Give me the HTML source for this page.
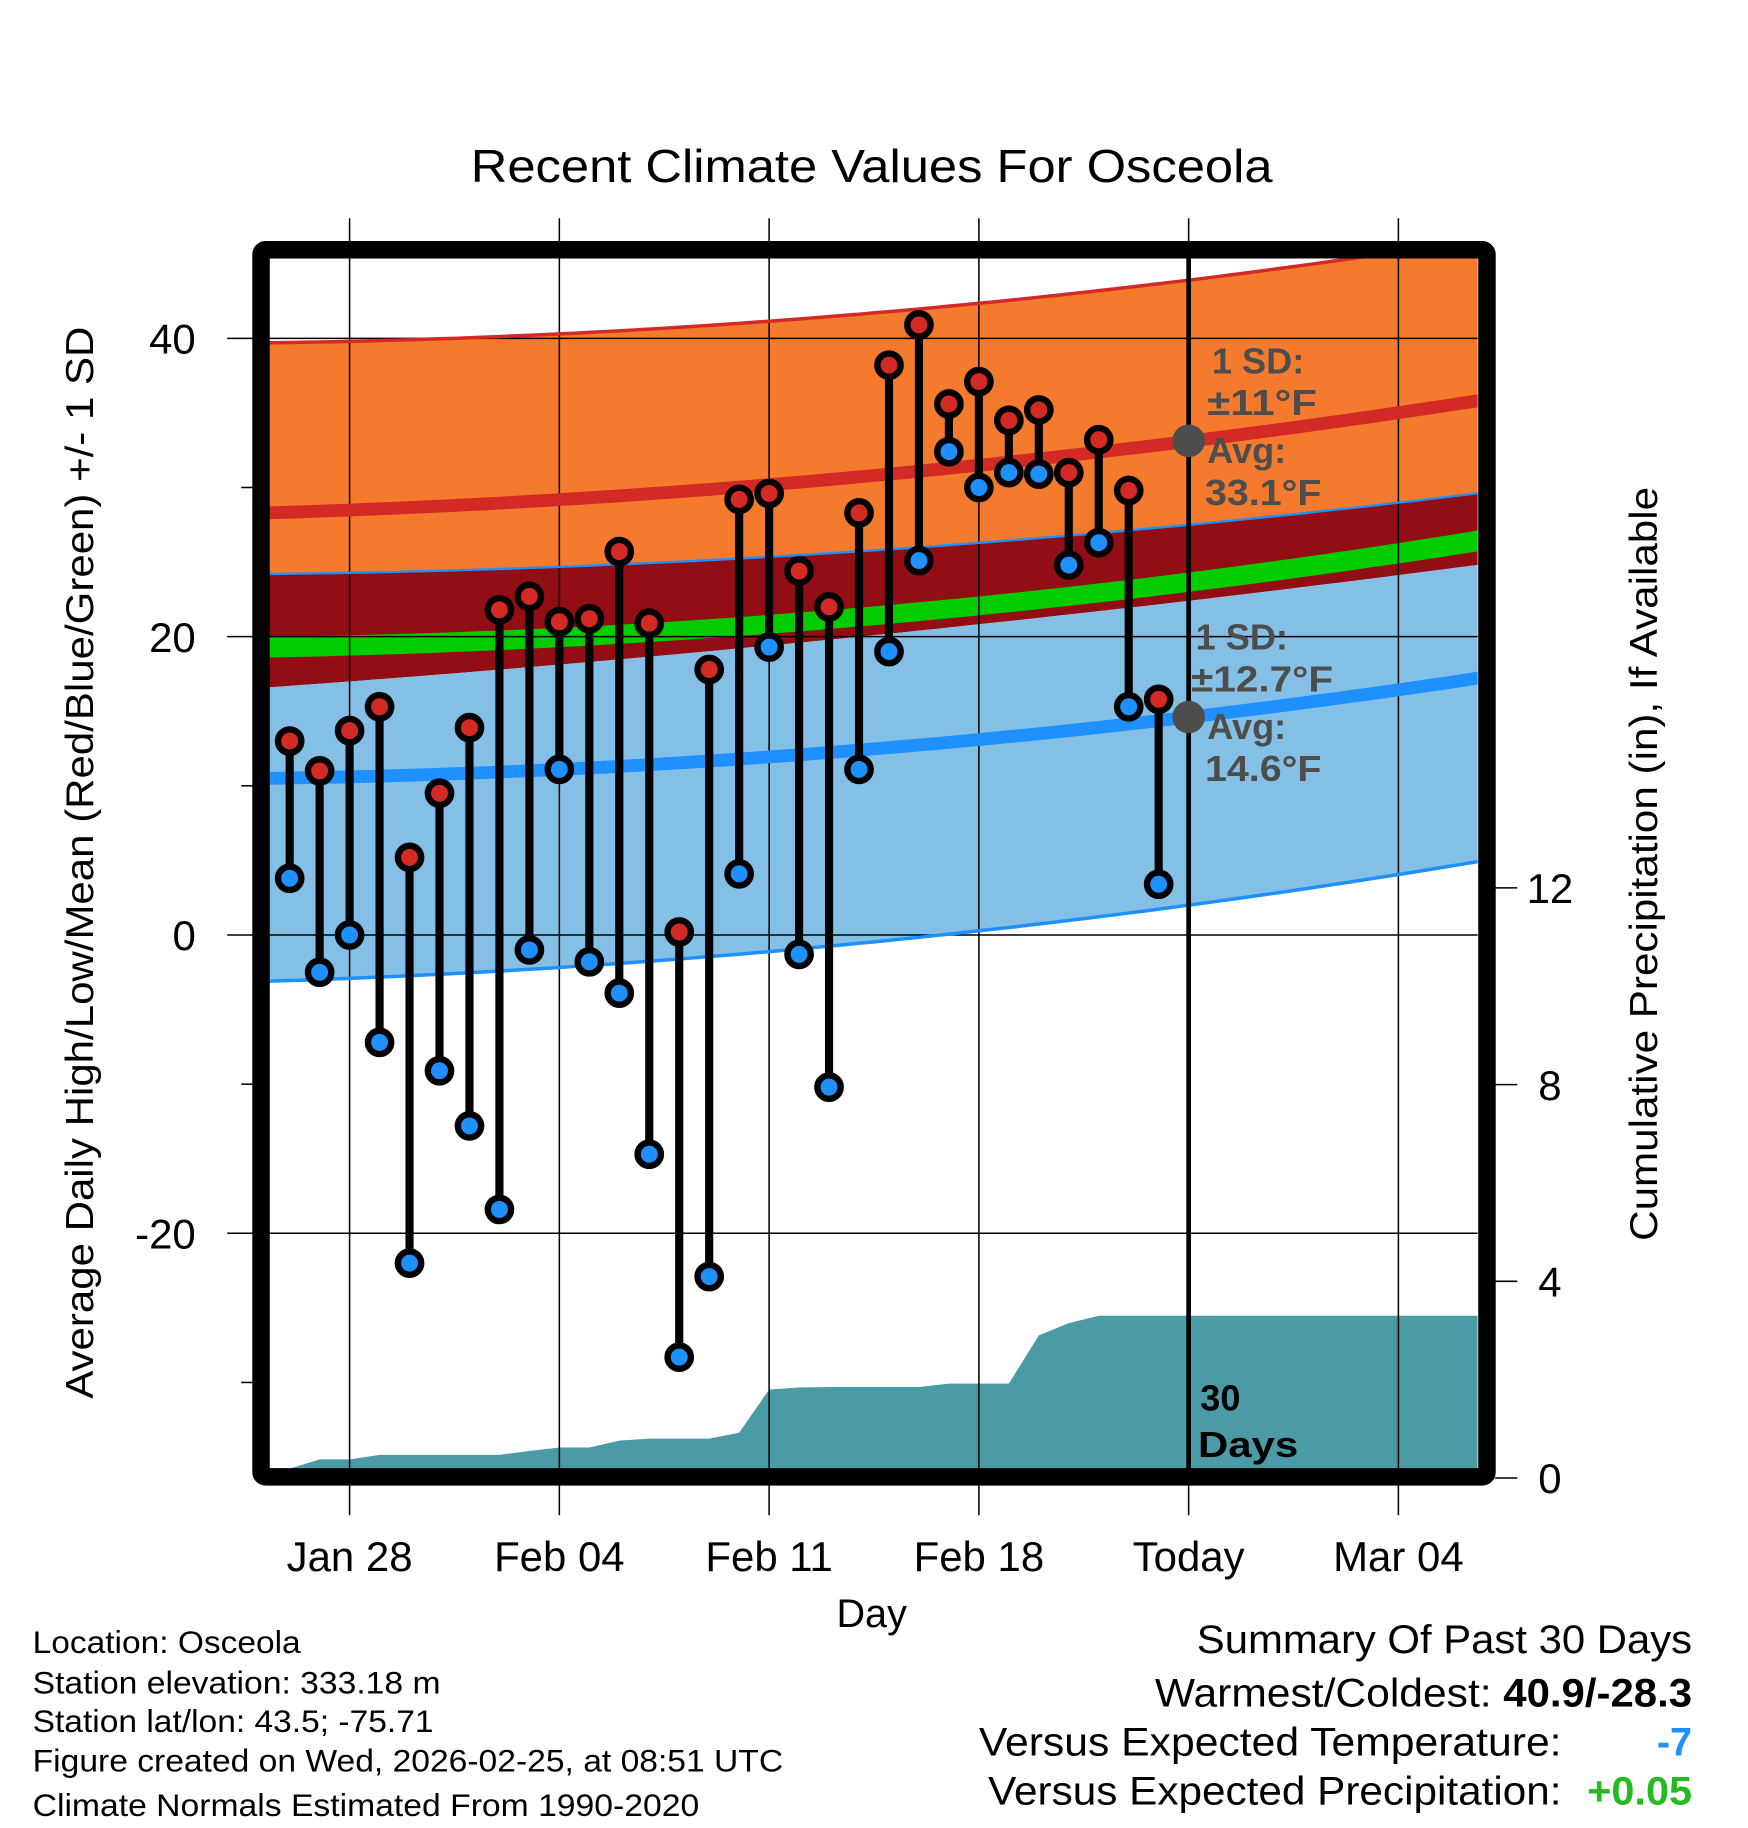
<!DOCTYPE html>
<html><head><meta charset="utf-8"><style>
html,body{margin:0;padding:0;background:#fff;}
svg{display:block;font-family:"Liberation Sans",Arial,sans-serif;}
</style></head><body>
<svg id="chart" width="1748" height="1828" viewBox="0 0 1500 1568" xmlns="http://www.w3.org/2000/svg">
<defs><clipPath id="pc"><rect x="231" y="221" width="1037" height="1039"/></clipPath></defs>
<g id="bands" clip-path="url(#pc)"></g>
<g id="precip" clip-path="url(#pc)"></g>
<g id="grid"></g>
<g id="lines" clip-path="url(#pc)"></g>
<g id="marks"></g>
<rect x="224" y="214" width="1052" height="1053" fill="none" stroke="#000" stroke-width="15" rx="4"/>
<g id="axes"></g>
<text x="748" y="156" font-size="40" text-anchor="middle" textLength="688" lengthAdjust="spacingAndGlyphs">Recent Climate Values For Osceola</text>
<text transform="translate(80,740) rotate(-90)" font-size="33" text-anchor="middle" textLength="920" lengthAdjust="spacingAndGlyphs">Average Daily High/Low/Mean (Red/Blue/Green) +/- 1 SD</text>
<text transform="translate(1422,741) rotate(-90)" font-size="33" text-anchor="middle" textLength="647" lengthAdjust="spacingAndGlyphs">Cumulative Precipitation (in), If Available</text>
<text x="748" y="1396" font-size="34" text-anchor="middle">Day</text>
<g font-size="27">
<text x="28" y="1418" textLength="230" lengthAdjust="spacingAndGlyphs">Location: Osceola</text>
<text x="28" y="1453" textLength="350" lengthAdjust="spacingAndGlyphs">Station elevation: 333.18 m</text>
<text x="28" y="1486" textLength="344" lengthAdjust="spacingAndGlyphs">Station lat/lon: 43.5; -75.71</text>
<text x="28" y="1520" textLength="644" lengthAdjust="spacingAndGlyphs">Figure created on Wed, 2026-02-25, at 08:51 UTC</text>
<text x="28" y="1558" textLength="572" lengthAdjust="spacingAndGlyphs">Climate Normals Estimated From 1990-2020</text>
</g>
<g font-size="34">
<text x="1027" y="1418" textLength="425" lengthAdjust="spacingAndGlyphs">Summary Of Past 30 Days</text>
<text x="991" y="1464" textLength="289" lengthAdjust="spacingAndGlyphs">Warmest/Coldest:</text>
<text x="1290" y="1464" font-weight="bold" textLength="162" lengthAdjust="spacingAndGlyphs">40.9/-28.3</text>
<text x="840" y="1506" textLength="500" lengthAdjust="spacingAndGlyphs">Versus Expected Temperature:</text>
<text x="1452" y="1506" fill="#1e90ff" font-weight="bold" text-anchor="end">-7</text>
<text x="848" y="1548" textLength="492" lengthAdjust="spacingAndGlyphs">Versus Expected Precipitation:</text>
<text x="1362" y="1548" fill="#22bb22" font-weight="bold" textLength="90" lengthAdjust="spacingAndGlyphs">+0.05</text>
</g>
<script>
// ---- data ----
const highs=[13,11,13.7,15.3,5.2,9.5,13.9,21.8,22.7,21,21.2,25.7,20.9,0.2,17.8,29.2,29.6,24.4,22,28.3,38.2,40.9,35.6,37.1,34.5,35.2,31,33.2,29.8,15.8];
const lows=[3.8,-2.5,0,-7.2,-22,-9.1,-12.8,-18.4,-1,11.1,-1.8,-3.9,-14.7,-28.3,-22.9,4.1,19.3,-1.3,-10.2,11.1,19,25.1,32.4,30,31,30.9,24.8,26.3,15.3,3.4];
const precip=[0.19,0.38,0.38,0.47,0.47,0.47,0.47,0.47,0.55,0.62,0.62,0.76,0.8,0.8,0.8,0.92,1.8,1.84,1.85,1.85,1.85,1.85,1.92,1.92,1.92,2.9,3.15,3.3,3.3,3.3];
const firstDay=-2; // days relative to Jan 28
const normDays=[-2.7,28,37.6];
const hiUpper=[39.7,43.9,46.6];
const hiAvg=[28.3,33.1,35.8];
const hiLower=[24.2,27.5,29.6];
const meanTop=[20,24.3,27.1];
const meanBot=[18.6,23.0,25.7];
const loUpper=[16.6,22.4,24.8];
const loAvg=[10.5,14.6,17.2];
const loLower=[-3.1,2.0,4.9];
const xTicks=["Jan 28","Feb 04","Feb 11","Feb 18","Today","Mar 04"];
const yTicks=[40,20,0,-20];
const pTicks=[0,4,8,12];
// ---- scales ----
const X=d=>300+d*180/7, Y=v=>802-v*12.8, P=p=>1268-p*42.2;
const NS="http://www.w3.org/2000/svg";
function mk(tag,attrs,parent){const e=document.createElementNS(NS,tag);for(const k in attrs)e.setAttribute(k,attrs[k]);parent.appendChild(e);return e;}
function q(arr,d){const [a,b,c]=normDays;return arr[0]*(d-b)*(d-c)/((a-b)*(a-c))+arr[1]*(d-a)*(d-c)/((b-a)*(b-c))+arr[2]*(d-a)*(d-b)/((c-a)*(c-b));}
const dd=[];for(let d=-3;d<=38.5;d+=0.5)dd.push(d);
const pts=arr=>dd.map(d=>X(d).toFixed(1)+","+Y(q(arr,d)).toFixed(1));
function band(top,bot,fill,name){const e=mk("polygon",{points:pts(top).concat(pts(bot).reverse()).join(" "),fill:fill},document.getElementById("bands"));

}
band(hiUpper,hiLower,"#f47a2e","high-sd-band");
band(hiLower,loUpper,"#930e14","overlap-band");
band(loUpper,loLower,"#84c0e6","low-sd-band");
band(meanTop,meanBot,"#00cc00","mean-band");
const L=document.getElementById("lines");
function line(arr,col,w,name){const e=mk("polyline",{points:pts(arr).join(" "),fill:"none",stroke:col,"stroke-width":w},L);

}
line(hiUpper,"#d42a26",3,"high-upper-line");line(hiLower,"#1e90ff",2,"high-lower-line");
line(loLower,"#1e90ff",3,"low-lower-line");
line(hiAvg,"#d42a26",11,"high-avg-line");line(loAvg,"#1e90ff",11,"low-avg-line");
// precip
const pp=["231,1268"];precip.forEach((p,i)=>{const x=X(firstDay+i);if(i==0)pp.push(x+","+P(0));pp.push(x+","+P(p));});
pp.push("1268,"+P(precip[precip.length-1]));pp.push("1268,1268");
const pa=mk("polygon",{points:pp.join(" "),fill:"#4a9ba5"},document.getElementById("precip"));


// grid
const G=document.getElementById("grid");
xTicks.forEach((t,i)=>{const x=X(i*7);const l=mk("line",{x1:x,x2:x,y1:187,y2:1300,stroke:"#000","stroke-width":1.3},G);


const tx=mk("text",{x:x,y:1348,"font-size":36,"text-anchor":"middle"},document.getElementById("axes"));tx.textContent=t;

});
yTicks.forEach(v=>{const y=Y(v);const l=mk("line",{x1:195,x2:1268,y1:y,y2:y,stroke:"#000","stroke-width":1.3},G);


const tx=mk("text",{x:168,y:y+13,"font-size":36,"text-anchor":"end"},document.getElementById("axes"));tx.textContent=v;

});
[30,10,-10,-30].forEach(v=>{const l=mk("line",{x1:207,x2:217,y1:Y(v),y2:Y(v),stroke:"#000","stroke-width":1.3},G);

});
pTicks.forEach(p=>{const y=P(p);const l=mk("line",{x1:1283,x2:1302,y1:y,y2:y,stroke:"#000","stroke-width":1.3},G);


const tx=mk("text",{x:1330,y:y+13,"font-size":36,"text-anchor":"middle"},document.getElementById("axes"));tx.textContent=p;

});
// marks
const M=document.getElementById("marks");
const tl=mk("line",{x1:1020,x2:1020,y1:221,y2:1262,stroke:"#000","stroke-width":4},M);


highs.forEach((h,i)=>{const x=X(firstDay+i);const s=mk("line",{x1:x,x2:x,y1:Y(h),y2:Y(lows[i]),stroke:"#000","stroke-width":7},M);

});
highs.forEach((h,i)=>{const x=X(firstDay+i);
const c1=mk("circle",{cx:x,cy:Y(h),r:10,fill:"#d42a26",stroke:"#000","stroke-width":5.5},M);


const c2=mk("circle",{cx:x,cy:Y(lows[i]),r:10,fill:"#1e90ff",stroke:"#000","stroke-width":5.5},M);

});
</script>
<circle cx="1020" cy="378" r="14" fill="#4d4d4d"/>
<circle cx="1020" cy="615" r="14" fill="#4d4d4d"/>
<g font-size="31" font-weight="bold" fill="#4d4d4d">
<text x="1040" y="320">1 SD:</text>
<text x="1036" y="356" textLength="94" lengthAdjust="spacingAndGlyphs">±11°F</text>
<text x="1036" y="397">Avg:</text>
<text x="1034" y="433" textLength="100" lengthAdjust="spacingAndGlyphs">33.1°F</text>
<text x="1026" y="557">1 SD:</text>
<text x="1022" y="593" textLength="122" lengthAdjust="spacingAndGlyphs">±12.7°F</text>
<text x="1036" y="634">Avg:</text>
<text x="1034" y="670" textLength="100" lengthAdjust="spacingAndGlyphs">14.6°F</text>
</g>
<text x="1030" y="1210" font-size="31" font-weight="bold">30</text>
<text x="1028" y="1250" font-size="31" font-weight="bold" textLength="86" lengthAdjust="spacingAndGlyphs">Days</text>
</svg>
</body></html>
